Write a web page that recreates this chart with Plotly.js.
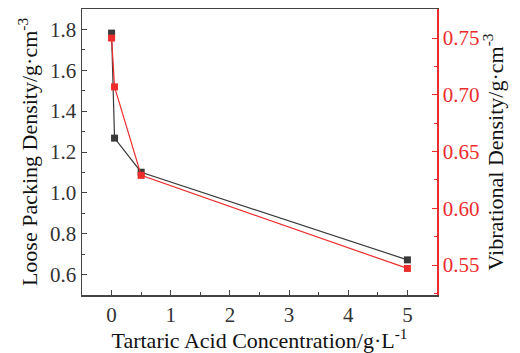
<!DOCTYPE html>
<html><head><meta charset="utf-8">
<script src="https://cdn.plot.ly/plotly-3.0.1.min.js"></script>
<style>html,body{margin:0;padding:0;background:#fff}#c{width:520px;height:353px}</style>
</head><body><div id="c"></div>
<script>
const concentration = [0, 0.05, 0.5, 5];
const looseDensity = [1.782, 1.268, 1.101, 0.672];
const vibrationalDensity = [0.750, 0.707, 0.629, 0.547];
const xTicks = [0, 1, 2, 3, 4, 5];
const leftTicks = [0.6, 0.8, 1.0, 1.2, 1.4, 1.6, 1.8];
const rightTicks = [0.55, 0.60, 0.65, 0.70, 0.75];

const black = '#3a3a3a', red = '#ee2c2c';
const font = {family: '"Liberation Serif", "Times New Roman", serif', size: 21, color: '#333'};

const traces = [
  {x: concentration, y: looseDensity, type: 'scatter', mode: 'lines+markers',
   line: {color: black, width: 1.2}, marker: {symbol: 'square', size: 7, color: black}, yaxis: 'y'},
  {x: concentration, y: vibrationalDensity, type: 'scatter', mode: 'lines+markers',
   line: {color: red, width: 1.2}, marker: {symbol: 'square', size: 7, color: red}, yaxis: 'y2'}
];
const layout = {
  width: 520, height: 353, showlegend: false,
  margin: {l: 82, r: 83, t: 9, b: 58},
  paper_bgcolor: '#fff', plot_bgcolor: '#fff', font: font,
  xaxis: {range: [-0.5, 5.5], tickvals: xTicks, ticktext: xTicks.map(String),
    ticks: 'inside', ticklen: 5, tickcolor: '#444', showline: true, linecolor: '#444', linewidth: 1.5,
    mirror: true, showgrid: false, zeroline: false,
    minor: {dtick: 0.5, ticks: 'inside', ticklen: 3, tickcolor: '#444'},
    tickfont: {size: 21, color: '#333'},
    title: {text: 'Tartaric Acid Concentration/g·L<sup>-1</sup>', font: {size: 22, color: '#111'}, standoff: 2}},
  yaxis: {range: [0.5, 1.9], tickvals: leftTicks, ticktext: leftTicks.map(v => v.toFixed(1)),
    ticks: 'inside', ticklen: 5, tickcolor: '#444', showline: true, linecolor: '#444', linewidth: 1.5,
    showgrid: false, zeroline: false,
    minor: {dtick: 0.1, ticks: 'inside', ticklen: 3, tickcolor: '#444'},
    tickfont: {size: 21, color: '#333'},
    title: {text: 'Loose Packing Density/g·cm<sup>-3</sup>', font: {size: 22, color: '#111'}, standoff: 6}},
  yaxis2: {overlaying: 'y', side: 'right', range: [0.5236, 0.7756], tickvals: rightTicks,
    ticktext: rightTicks.map(v => v.toFixed(2)),
    ticks: 'inside', ticklen: 5, tickcolor: red, showline: true, linecolor: red, linewidth: 1.5,
    showgrid: false, zeroline: false,
    minor: {dtick: 0.025, ticks: 'inside', ticklen: 3, tickcolor: red},
    tickfont: {size: 21, color: red},
    title: {text: 'Vibrational Density/g·cm<sup>-3</sup>', font: {size: 22, color: '#111'}, standoff: 6}}
};
Plotly.newPlot('c', traces, layout, {staticPlot: true});
</script></body></html>
